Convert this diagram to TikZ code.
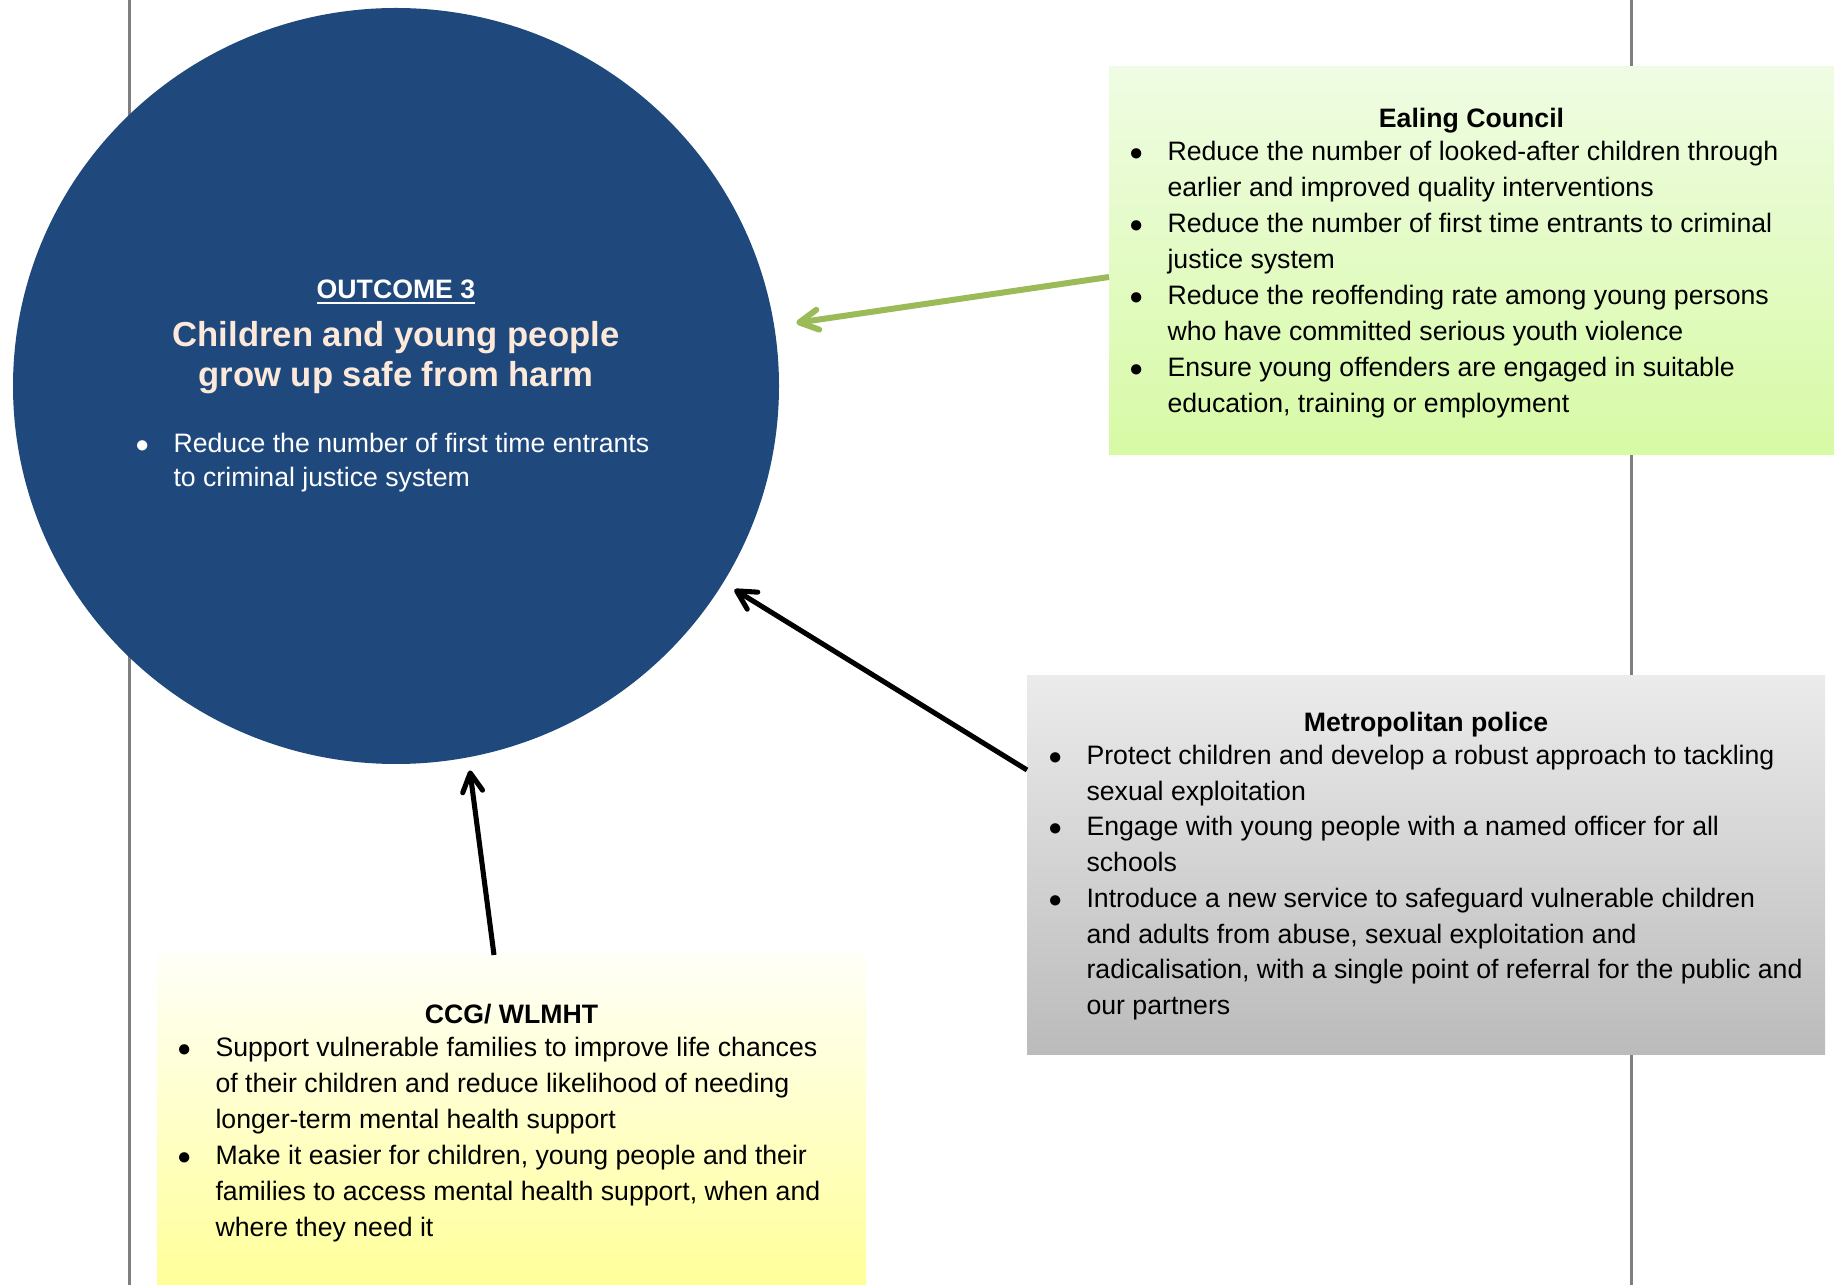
\documentclass[tikz,border=0pt]{standalone}
\usepackage{fontspec}
\setmainfont{Liberation Sans}
\usetikzlibrary{arrows.meta,calc,shapes.geometric}

\definecolor{outcomeblue}{HTML}{1F497D}
\definecolor{outcomepeach}{HTML}{FDE9D9}
\definecolor{ealinggreen}{HTML}{9BBB59}
\definecolor{guidegray}{HTML}{7F7F7F}
\definecolor{ealingtop}{HTML}{EFFCE3}
\definecolor{ealingbot}{HTML}{D7FAA5}
\definecolor{metgraytop}{HTML}{EBEBEB}
\definecolor{metgraybot}{HTML}{BBBBBB}
\definecolor{ccgtop}{HTML}{FFFFF8}
\definecolor{ccgmid}{HTML}{FFFFE4}
\definecolor{ccgbot}{HTML}{FFFF99}

\newcommand{\pxu}{0.375pt}
\newcommand{\itm}{\makebox[14.25pt][l]{$\bullet$}}

\tikzset{
  guide/.style={draw=guidegray, line width=1.1pt},
  partner/.style={rectangle, anchor=north west, inner sep=0pt, outer sep=0pt},
  heading/.style={anchor=base, inner sep=0pt, font=\bfseries\fontsize{10}{13.5}\selectfont},
  points/.style={anchor=base west, inner sep=0pt, font=\fontsize{10}{13.5}\selectfont},
  link/.style={line width=1.9pt, -{Straight Barb[length=7pt,width=7.5pt,round]}},
}

\begin{document}
\begin{tikzpicture}[x=\pxu, y=-\pxu]
  \useasboundingbox (0,0) rectangle (1834,1285);
  \draw[guide] (129.5,0) -- (129.5,1285);
  \draw[guide] (1631.5,0) -- (1631.5,1285);

  % outcome circle
  \node[ellipse, fill=outcomeblue, minimum width=766*\pxu, minimum height=756*\pxu, inner sep=0pt, outer sep=0pt] (outcome) at (396,386) {};
  \node[heading, text=white] (outcomenum) at (396,299) {\underline{OUTCOME 3}};
  \node[anchor=base, inner sep=0pt, text=outcomepeach, font=\bfseries\fontsize{13}{15}\selectfont] (outcomegoal) at (396,347)
    {\begin{tabular}[t]{@{}c@{}}Children and young people\\grow up safe from harm\end{tabular}};
  \node[points, text=white, font=\fontsize{10}{12.75}\selectfont] (outcomepoints) at (135,452.5)
    {\begin{tabular}[t]{@{}l@{}l@{}}
      \itm & Reduce the number of first time entrants\\
           & to criminal justice system
    \end{tabular}};

  % partners
  \node[partner, top color=ealingtop, bottom color=ealingbot, minimum width=725*\pxu, minimum height=388*\pxu] (ealing) at (1109,67) {};
  \node[heading] (ealinghead) at (1471.5,127.5) {Ealing Council};
  \node[points] (ealingpoints) at (1129,160.5)
    {\begin{tabular}[t]{@{}l@{}l@{}}
      \itm & Reduce the number of looked-after children through\\
           & earlier and improved quality interventions\\
      \itm & Reduce the number of first time entrants to criminal\\
           & justice system\\
      \itm & Reduce the reoffending rate among young persons\\
           & who have committed serious youth violence\\
      \itm & Ensure young offenders are engaged in suitable\\
           & education, training or employment
    \end{tabular}};

  \node[partner, top color=metgraytop, bottom color=metgraybot, minimum width=798*\pxu, minimum height=378*\pxu] (met) at (1027,676) {};
  \node[heading] (methead) at (1426,731.5) {Metropolitan police};
  \node[points, font=\fontsize{10}{13.4}\selectfont] (metpoints) at (1048,764.5)
    {\begin{tabular}[t]{@{}l@{}l@{}}
      \itm & Protect children and develop a robust approach to tackling\\
           & sexual exploitation\\
      \itm & Engage with young people with a named officer for all\\
           & schools\\
      \itm & Introduce a new service to safeguard vulnerable children\\
           & and adults from abuse, sexual exploitation and\\
           & radicalisation, with a single point of referral for the public and\\
           & our partners
    \end{tabular}};

  \node[partner, top color=ccgtop, middle color=ccgmid, bottom color=ccgbot, minimum width=709*\pxu, minimum height=330*\pxu] (ccg) at (157,955) {};
  \node[heading] (ccghead) at (511.5,1023) {CCG/ WLMHT};
  \node[points] (ccgpoints) at (177,1056)
    {\begin{tabular}[t]{@{}l@{}l@{}}
      \itm & Support vulnerable families to improve life chances\\
           & of their children and reduce likelihood of needing\\
           & longer-term mental health support\\
      \itm & Make it easier for children, young people and their\\
           & families to access mental health support, when and\\
           & where they need it
    \end{tabular}};

  % links
  \draw[link, draw=ealinggreen, line width=2.25pt, shorten >=8.4pt] ([yshift=-6pt]ealing.west) -- (outcome.9);
  \draw[link, shorten >=5pt] ($(met.north west)+(0,94)$) -- (outcome.-31.4);
  \draw[link, shorten >=5pt] ($(ccg.north)+(-17.5,0)$) -- (outcome.-79);
\end{tikzpicture}
\end{document}
